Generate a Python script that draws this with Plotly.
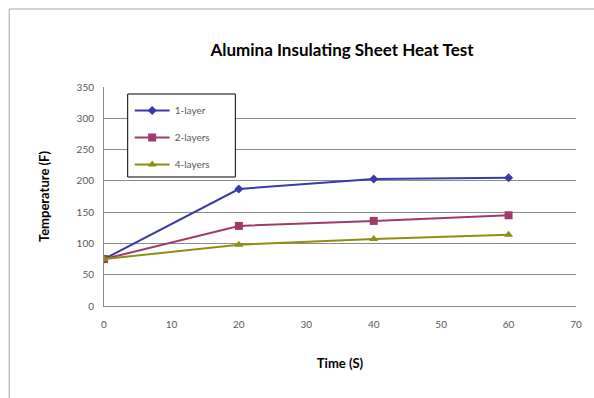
import plotly.graph_objects as go

time_s = [0, 20, 40, 60]
one_layer = [75, 187, 203, 205]
two_layers = [75, 128, 136, 145]
four_layers = [75, 98, 107, 114]
series_names = ["1-layer", "2-layers", "4-layers"]

W, H = 594, 398
L, R, T, B = 104, 12, 87, 92

fig = go.Figure()
styles = [
    ("#3a3aa6", "diamond", 7, one_layer),
    ("#a13a6c", "square", 8, two_layers),
    ("#8e8e10", "triangle-up", 8, four_layers),
]
for i, (name, (col, sym, ms, vals)) in enumerate(zip(series_names, styles)):
    fig.add_trace(go.Scatter(
        x=time_s, y=vals, name=name, mode="lines+markers",
        line=dict(color=col, width=2),
        marker=dict(symbol=sym, size=ms, color=col),
        legendgroup=f"g{i}",
    ))

pw = W - L - R
ph = H - T - B
fig.add_shape(type="rect", xref="paper", yref="paper",
              x0=(8 - L) / pw, x1=1.2, y0=-0.6, y1=(H - B - 9) / ph,
              line=dict(color="#a6a6a6", width=1), layer="below")
# legend frame
fig.add_shape(type="rect", xref="paper", yref="paper",
              x0=(128 - L) / pw, x1=(237 - L) / pw,
              y0=(H - B - 177) / ph, y1=(H - B - 94) / ph,
              line=dict(color="black", width=1), fillcolor="white", layer="above")

fig.update_layout(
    width=W, height=H,
    margin=dict(l=L, r=R, t=T, b=B),
    paper_bgcolor="white", plot_bgcolor="white",
    font=dict(family="Lato, Open Sans, sans-serif", color="#595959"),
    title=dict(text="<b>Alumina Insulating Sheet Heat Test</b>",
               x=(342) / W, xanchor="center", y=1 - 50 / H, yanchor="middle",
               font=dict(size=17, color="black")),
    xaxis=dict(range=[0, 70], dtick=10, showgrid=False, zeroline=False,
               showline=True, linecolor="#8c8c8c", linewidth=1,
               ticks="", ticklabelstandoff=9, tickfont=dict(size=10, color="#595959"),
               title=dict(text="<b>Time (S)</b>", font=dict(size=13, color="black"),
                          standoff=29)),
    yaxis=dict(range=[0, 350], dtick=50, showgrid=True, gridcolor="#8c8c8c",
               gridwidth=1, zeroline=False, showline=True, linecolor="#8c8c8c",
               linewidth=1, ticks="", ticklabelstandoff=7, tickfont=dict(size=10, color="#595959"),
               title=dict(text="<b>Temperature (F)</b>", font=dict(size=13, color="black"),
                          standoff=24)),
    legend=dict(x=(130 - L) / pw, y=(H - B - 96) / ph, xanchor="left", yanchor="top",
                borderwidth=0, bgcolor="rgba(0,0,0,0)",
                font=dict(size=10, color="#595959"), tracegroupgap=8,
                traceorder="grouped", itemwidth=35),
    showlegend=True,
)

fig.write_html("out.html")
